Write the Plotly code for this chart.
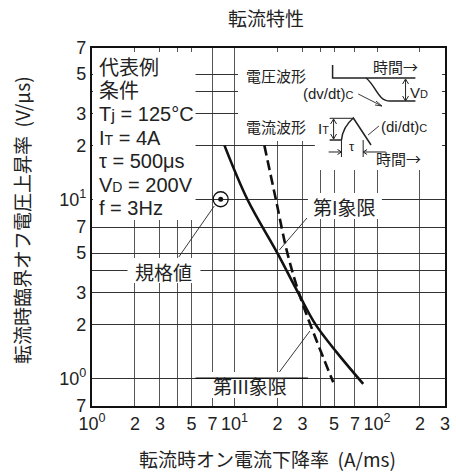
import math
import plotly.graph_objects as go

# ---------------- data ----------------
q1_x = [8.5, 12.3, 20, 28, 37, 52, 80]        # 第I象限 (solid)
q1_y = [20, 10, 5, 3.0, 2.0, 1.4, 0.93]
q3_x = [16.2, 19.5, 23.5, 28.7, 36.8, 49.3]   # 第III象限 (dashed)
q3_y = [20, 10, 5, 2.9, 1.7, 0.95]
spec_x = [8]                                   # 規格値
spec_y = [10]

x_tickvals = [1, 2, 3, 4, 5, 7, 10, 20, 30, 40, 50, 70, 100, 200, 300]
x_ticktext = ["10<sup>0</sup>", "2", "3", "", "5", "7", "10<sup>1</sup>", "2", "3", "", "5", "7",
              "10<sup>2</sup>", "2", "3"]
y_tickvals = [0.7, 1, 2, 3, 4, 5, 7, 10, 20, 30, 40, 50, 70]
y_ticktext = ["7", "10<sup>0</sup>", "2", "3", "", "5", "7", "10<sup>1</sup>", "2", "3", "", "5", "7"]

FONT = "Liberation Sans, Arial, Noto Sans CJK JP, sans-serif"
JFONT = "Noto Sans CJK JP, Liberation Sans, sans-serif"
TXT = "#222"

W, H = 456, 476
L, R, T, B = 92, 450, 48, 406


def px(x):
    return (x - L) / (R - L)


def py(y):
    return (B - y) / (B - T)


fig = go.Figure()
fig.add_trace(go.Scatter(x=q1_x, y=q1_y, mode="lines", line=dict(color="#111", width=2.6, shape="spline"),
                         showlegend=False, hoverinfo="skip"))
fig.add_trace(go.Scatter(x=q3_x, y=q3_y, mode="lines",
                         line=dict(color="#111", width=2.6, dash="10px,5px", shape="spline"),
                         showlegend=False, hoverinfo="skip"))
fig.add_trace(go.Scatter(x=spec_x, y=spec_y, mode="markers",
                         marker=dict(symbol="circle-open", size=15, color="#111", line=dict(width=1.3)),
                         showlegend=False, hoverinfo="skip"))
fig.add_trace(go.Scatter(x=spec_x, y=spec_y, mode="markers",
                         marker=dict(symbol="circle", size=5, color="#111"),
                         showlegend=False, hoverinfo="skip"))

shapes = []


def mask(x0, y0, x1, y1):
    shapes.append(dict(type="rect", xref="paper", yref="paper", x0=px(x0), x1=px(x1), y0=py(y1), y1=py(y0),
                       fillcolor="white", line=dict(width=0), layer="above"))


def seg(pts, w=1.2, color="#222"):
    d = "M " + " L ".join(f"{px(a):.5f},{py(b):.5f}" for a, b in pts)
    shapes.append(dict(type="path", xref="paper", yref="paper", path=d, line=dict(color=color, width=w),
                       layer="above"))


def curve(d_pts, w=1.4):
    parts = []
    for cmd, pts in d_pts:
        parts.append(cmd + " " + " ".join(f"{px(a):.5f},{py(b):.5f}" for a, b in pts))
    shapes.append(dict(type="path", xref="paper", yref="paper", path=" ".join(parts),
                       line=dict(color="#222", width=w), layer="above"))


# white areas covering the grid
mask(93, 52, 197, 220)      # condition box
mask(240, 52, 447, 106)     # voltage waveform
mask(240, 106, 447, 141)    # current waveform label
mask(318, 141, 447, 170)    # current waveform lower part
mask(311, 193, 386, 219)    # 第I象限
mask(128, 258, 202, 283)    # 規格値
mask(209, 372, 296, 398)    # 第III象限

# emphasised 10^1 line
shapes.append(dict(type="line", xref="paper", yref="y", x0=px(197), x1=px(311),
                   y0=1, y1=1, line=dict(color="#111", width=1.7), layer="above"))

# leader lines
seg([(310, 218), (282, 250)], w=0.9)
seg([(180, 257), (216, 206)], w=0.9)
seg([(282, 372), (313, 331)], w=0.9)

# voltage waveform
seg([(336, 65), (336, 78), (420, 78)], w=1.5)
curve([("M", [(370, 78)]), ("C", [(380, 86), (382, 101), (394, 101)]), ("L", [(420, 101)])], w=1.5)
seg([(410, 80), (410, 100)], w=1.0)
seg([(407, 84), (410, 79), (413, 84)], w=1.0)
seg([(407, 96), (410, 101), (413, 96)], w=1.0)
seg([(362, 94), (386, 106)], w=0.9)
seg([(380, 101), (386, 106), (379, 105)], w=0.9)

# current waveform
seg([(333, 118.3), (357, 118.3)], w=1.0)
seg([(333, 140), (345, 140)], w=1.5)
curve([("M", [(345, 140)]), ("C", [(346, 130), (350, 124), (357, 118)]),
       ("L", [(375, 145), (380, 140), (420, 140)])], w=1.5)
seg([(337, 120), (337, 139)], w=1.0)
seg([(334, 124), (337, 119), (340, 124)], w=1.0)
seg([(334, 134), (337, 139), (340, 134)], w=1.0)
seg([(383, 126), (372, 135)], w=0.9)
seg([(345, 140), (345, 157)], w=1.0)
seg([(367, 140), (367, 157)], w=1.0)
seg([(332, 152), (345, 152)], w=1.0)
seg([(341, 149.5), (345, 152), (341, 154.5)], w=1.0)
seg([(367, 152), (390, 152)], w=1.0)
seg([(371, 149.5), (367, 152), (371, 154.5)], w=1.0)

annotations = []


def label(x, y, text, size=20, anchor="center", font=FONT, angle=0):
    annotations.append(dict(xref="paper", yref="paper", x=px(x), y=py(y), text=text, showarrow=False,
                            xanchor=anchor, yanchor="middle", textangle=angle,
                            font=dict(family=font, size=size, color=TXT)))


SUB = "<span style='font-size:14px'>{}</span>"
label(97, 66, "代表例", anchor="left", font=JFONT)
label(97, 89, "条件", anchor="left", font=JFONT)
label(97, 114, "T<span style='font-size:17px'>j</span> = 125°C", anchor="left")
label(97, 138, "I" + SUB.format("T") + " = 4A", anchor="left")
label(97, 161, "τ = 500μs", anchor="left")
label(97, 185, "V" + SUB.format("D") + " = 200V", anchor="left")
label(97, 208, "f = 3Hz", anchor="left")

label(348, 206, "第I象限", size=19, font=JFONT)
label(165, 271, "規格値", size=19, font=JFONT)
label(252, 385, "第III象限", size=19, font=JFONT)

label(279, 75, "電圧波形", size=15, font=JFONT)
label(279, 127, "電流波形", size=15, font=JFONT)
label(400, 66, "時間→", size=15, font=JFONT)
label(403, 158, "時間→", size=15, font=JFONT)
label(332, 93, "(dv/dt)" + "<span style='font-size:11px'>C</span>", size=15, font=FONT)
label(408, 126, "(di/dt)" + "<span style='font-size:11px'>C</span>", size=15, font=FONT)
label(424, 92, "V" + "<span style='font-size:11px'>D</span>", size=15, font=FONT)
label(327, 128, "I" + "<span style='font-size:11px'>T</span>", size=15, font=FONT)
label(356, 146, "τ", size=13, font=FONT)

label(268, 18, "転流特性", size=19, font=JFONT)
label(270, 458, "転流時オン電流下降率  (A/ms)", size=19, font=JFONT)
label(20, 220, "転流時臨界オフ電圧上昇率  (V/μs)", size=19, font=JFONT, angle=-90)

fig.update_layout(
    width=W, height=H,
    margin=dict(l=L, r=W - R, t=T, b=H - B, pad=0),
    paper_bgcolor="white", plot_bgcolor="white",
    font=dict(family=FONT, size=18, color=TXT),
    shapes=shapes, annotations=annotations,
    showlegend=False,
)
fig.update_xaxes(type="log", range=[0, math.log10(300)], tickmode="array", tickvals=x_tickvals,
                 ticktext=x_ticktext, showgrid=True, gridcolor="#555", gridwidth=1, ticks="",
                 showline=True, linewidth=2.2, linecolor="#111", mirror=True, zeroline=False,
                 tickfont=dict(size=18, color=TXT), layer="above traces")
fig.update_yaxes(type="log", range=[math.log10(0.7), math.log10(70)], tickmode="array", tickvals=y_tickvals,
                 ticktext=y_ticktext, showgrid=True, gridcolor="#333", gridwidth=1.1, ticks="",
                 showline=True, linewidth=2.2, linecolor="#111", mirror=True, zeroline=False,
                 tickfont=dict(size=18, color=TXT), layer="above traces")

fig.write_html("out.html", config={"displayModeBar": False},
               post_script="document.body.style.margin='0';document.body.style.overflow='hidden';")
